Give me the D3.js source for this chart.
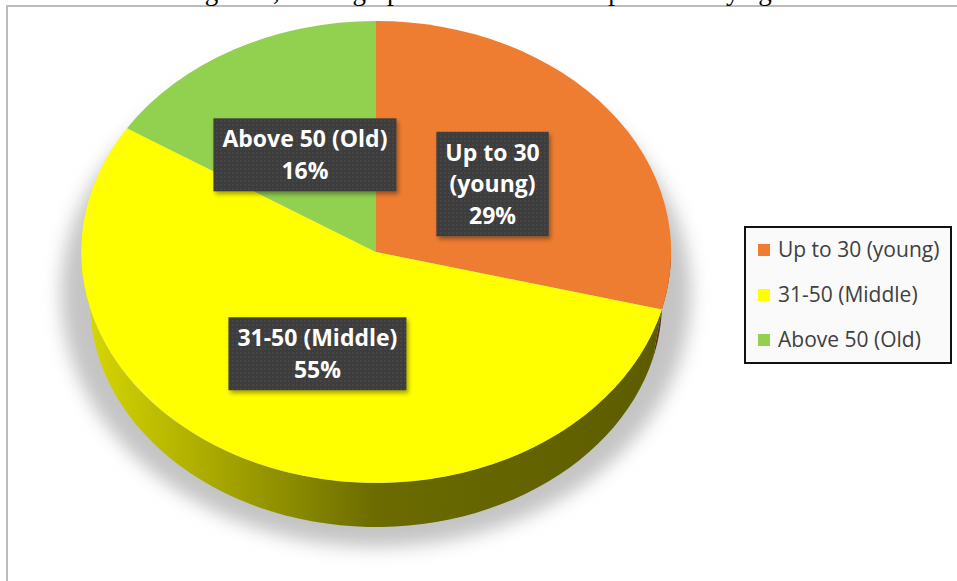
<!DOCTYPE html>
<html>
<head>
<meta charset="utf-8">
<script src="https://cdn.jsdelivr.net/npm/d3@7"></script>
<style>
  body { margin: 0; background: #fff; }
</style>
</head>
<body>
<div class="chart"></div>
<script>
var svgWidth = 957;
var svgHeight = 581;

// chart data
var categories = ["Up to 30 (young)", "31-50 (Middle)", "Above 50 (Old)"];
var shares = [29, 55, 16];
var sliceColors = ["#ee7d31", "#ffff00", "#92d050"];
var labelLines = [["Up to 30", "(young)"], ["31-50 (Middle)"], ["Above 50 (Old)"]];
var titleText = "Figure 1, Demographic attributes of respondents by age";

// pie geometry (ellipse for the 3D look)
var cx = 376, cy = 252, rx = 295, ry = 231, depth = 50;

var svg = d3.select(".chart")
    .append("svg")
    .attr("width", svgWidth)
    .attr("height", svgHeight);

var defs = svg.append("defs");

// soft shadow under the pie
var blur = defs.append("filter").attr("id", "blur")
    .attr("x", "-20%").attr("y", "-20%").attr("width", "140%").attr("height", "140%");
blur.append("feGaussianBlur").attr("stdDeviation", 9);

var boxShadow = defs.append("filter").attr("id", "boxShadow")
    .attr("x", "-20%").attr("y", "-20%").attr("width", "140%").attr("height", "150%");
boxShadow.append("feDropShadow")
    .attr("dx", 2).attr("dy", 3).attr("stdDeviation", 2)
    .attr("flood-color", "#000").attr("flood-opacity", 0.35);

// dotted texture of the label boxes
var dots = defs.append("pattern").attr("id", "dots")
    .attr("width", 4).attr("height", 4).attr("patternUnits", "userSpaceOnUse");
dots.append("rect").attr("width", 4).attr("height", 4).attr("fill", "#3d3d3d");
dots.append("circle").attr("cx", 1).attr("cy", 1).attr("r", 0.7).attr("fill", "#525252");

var data = categories.map(function(c, i) {
    return { name: c, value: shares[i], color: sliceColors[i], lines: labelLines[i] };
});

var pie = d3.pie().sort(null).value(d => d.value);
var arcs = pie(data);

var arc = d3.arc().innerRadius(0).outerRadius(1);

// side gradients, one per slice
function shade(c, f) {
    var col = d3.rgb(c);
    return d3.rgb(col.r * f, col.g * f, col.b * f).formatHex();
}
arcs.forEach(function(a, i) {
    var g = defs.append("linearGradient").attr("id", "side" + i)
        .attr("gradientUnits", "userSpaceOnUse")
        .attr("x1", cx - rx).attr("x2", cx + rx).attr("y1", 0).attr("y2", 0);
    [[0, 0.85], [0.25, 0.64], [0.5, 0.42], [1, 0.36]].forEach(function(s) {
        g.append("stop").attr("offset", s[0]).attr("stop-color", shade(a.data.color, s[1]));
    });
});

// shadow
svg.append("ellipse")
    .attr("cx", cx).attr("cy", cy + 42)
    .attr("rx", rx + 20).attr("ry", ry + 22)
    .attr("fill", "#c4c4c4")
    .attr("filter", "url(#blur)");

// sides: band between the top rim and a slightly smaller bottom rim (perspective)
var brx = rx - 9, bry = ry - 6;
var topPt = a => [cx + rx * Math.sin(a), cy - ry * Math.cos(a)];
var botPt = a => [cx + brx * Math.sin(a), cy + depth - bry * Math.cos(a)];

svg.append("g").selectAll("path")
    .data(arcs.filter(a => Math.max(a.startAngle, Math.PI / 2) < Math.min(a.endAngle, Math.PI * 1.5)))
    .enter()
    .append("path")
    .attr("d", function(a) {
        var a0 = Math.max(a.startAngle, Math.PI / 2);
        var a1 = Math.min(a.endAngle, Math.PI * 1.5);
        var steps = d3.range(0, 61).map(k => a0 + (a1 - a0) * k / 60);
        var pts = steps.map(topPt).concat(steps.reverse().map(botPt));
        return d3.line()(pts) + "Z";
    })
    .attr("fill", a => "url(#side" + a.index + ")");

// top faces
svg.append("g")
    .attr("transform", `translate(${cx}, ${cy}) scale(${rx}, ${ry})`)
    .selectAll("path")
    .data(arcs)
    .enter()
    .append("path")
    .attr("d", arc)
    .attr("fill", a => a.data.color);

// data labels
var lineH = 31.5;
var labels = svg.append("g")
    .style("font-family", "'Open Sans', sans-serif")
    .style("font-weight", "bold")
    .style("font-size", "23px");

arcs.forEach(function(a) {
    var c = arc.centroid(a);
    var lx = cx + c[0] * rx;
    var ly = cy + c[1] * ry * 0.96;
    var lines = a.data.lines.concat([a.data.value + "%"]);
    var g = labels.append("g");
    var box = g.append("rect");
    var t = g.append("text")
        .attr("text-anchor", "middle")
        .attr("fill", "#fff");
    lines.forEach(function(l, k) {
        t.append("tspan")
            .attr("x", lx)
            .attr("y", ly - (lines.length - 1) * lineH / 2 + k * lineH + 8)
            .text(l);
    });
    var w = d3.max(t.selectAll("tspan").nodes(), n => n.getComputedTextLength()) + 18;
    var h = lines.length * lineH + 10;
    box.attr("x", lx - w / 2).attr("y", ly - h / 2)
        .attr("width", w).attr("height", h)
        .attr("fill", "url(#dots)")
        .attr("filter", "url(#boxShadow)");
});

// legend
var legend = svg.append("g");
legend.append("rect")
    .attr("x", 745).attr("y", 227)
    .attr("width", 206).attr("height", 136)
    .attr("fill", "#fafafa")
    .attr("stroke", "#111")
    .attr("stroke-width", 2);

var legendY = d3.scalePoint().domain(categories).range([250, 340]);

var items = legend.selectAll(".item")
    .data(data)
    .enter()
    .append("g")
    .attr("class", "item")
    .attr("transform", d => `translate(758, ${legendY(d.name)})`);

items.append("rect")
    .attr("x", 0).attr("y", -6)
    .attr("width", 12).attr("height", 12)
    .attr("fill", d => d.color);

items.append("text")
    .attr("x", 20).attr("y", 7)
    .style("font-family", "'Open Sans', sans-serif")
    .style("font-size", "21px")
    .attr("fill", "#404040")
    .text(d => d.name);

// frame of the chart area
svg.append("path")
    .attr("d", `M7,${svgHeight} V6 H${svgWidth}`)
    .attr("fill", "none")
    .attr("stroke", "#bcbcbc")
    .attr("stroke-width", 2);

// title, cut by the top edge as in the source figure
svg.append("text")
    .attr("x", 483).attr("y", 0)
    .attr("text-anchor", "middle")
    .style("font-family", "'Liberation Serif', serif")
    .style("font-size", "27px")
    .attr("fill", "#000")
    .text(titleText);
</script>
</body>
</html>
